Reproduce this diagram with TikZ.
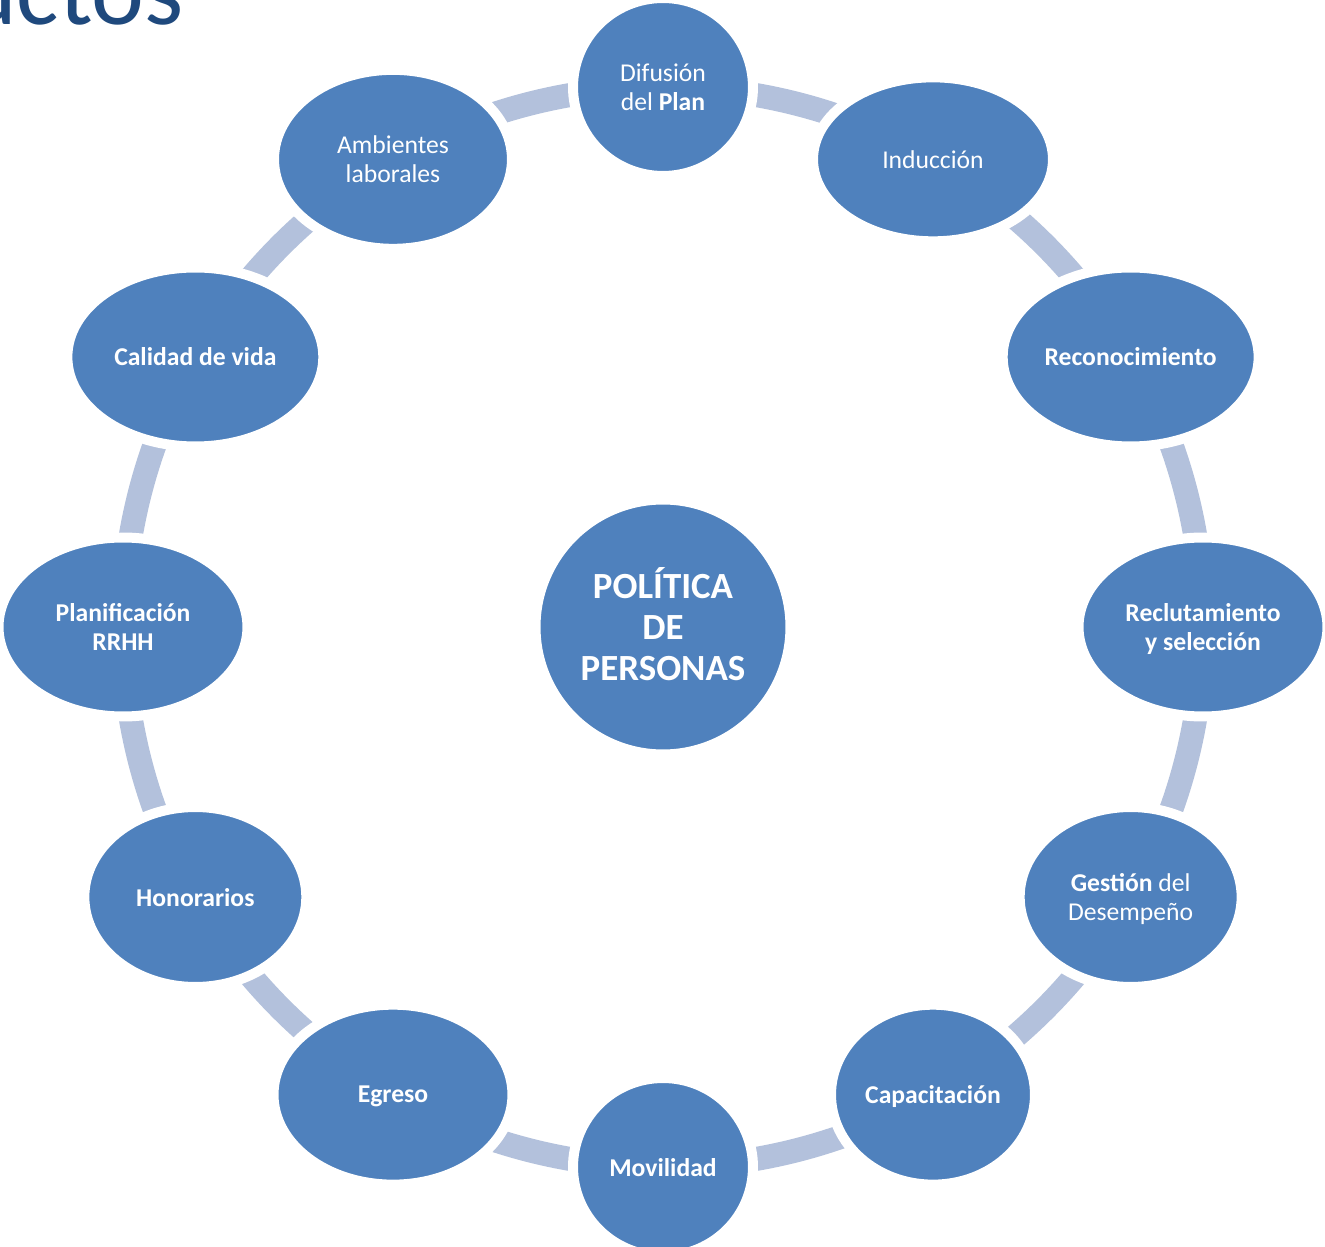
\documentclass[tikz,border=0pt]{standalone}
\usepackage{fontspec}
\setmainfont{Carlito}
\usetikzlibrary{shapes.geometric}

\definecolor{nodeblue}{RGB}{79,129,189}
\definecolor{ringblue}{RGB}{179,193,220}
\definecolor{titleblue}{RGB}{31,73,125}

\pgfdeclarelayer{ring}
\pgfsetlayers{ring,main}

\begin{document}
\begin{tikzpicture}[x=0.02cm, y=0.02cm,
    item/.style={ellipse, fill=nodeblue, draw=white, line width=0.2cm, inner sep=0pt,
      text=white, align=center, text depth=0pt, font=\fontsize{14.6}{16.5}\selectfont},
    bolditem/.style={item, font=\fontsize{14.6}{16.5}\selectfont\bfseries},
    hub/.style={item, minimum size=5.1cm, text depth=0.12cm, font=\fontsize{21}{23.3}\selectfont\bfseries},
    link/.style={ringblue, line width=0.48cm}]

  \useasboundingbox (-663,-620) rectangle (662,627);

  \begin{scope}
    \clip (-663,-620) rectangle (662,627);
    \node[anchor=base east, inner sep=0pt, text=titleblue, font=\fontsize{57}{60}\selectfont] (title) at (-479,602) {uctos};
  \end{scope}

  \node[hub] (politica) at (0,0) {POLÍTICA\\DE\\PERSONAS};

  \node[item, minimum width=3.6cm, minimum height=3.56cm] (difusion) at (90:540) {Difusión\\del \textbf{Plan}};
  \node[item, minimum width=4.8cm, minimum height=3.28cm] (induccion) at (60:540) {Inducción};
  \node[bolditem, minimum width=5.12cm, minimum height=3.58cm] (reconoc) at (30:540) {Reconocimiento};
  \node[bolditem, minimum width=4.98cm, minimum height=3.58cm] (reclut) at (0:540) {Reclutamiento\\y selección};
  \node[item, minimum width=4.44cm, minimum height=3.6cm] (gestion) at (-30:540) {\textbf{Gestión} del\\Desempeño};
  \node[bolditem, minimum width=4.08cm, minimum height=3.6cm] (capacit) at (-60:540) {Capacitación};
  \node[bolditem, minimum width=3.6cm, minimum height=3.56cm] (movilidad) at (-90:540) {Movilidad};
  \node[bolditem, minimum width=4.78cm, minimum height=3.6cm] (egreso) at (-120:540) {Egreso};
  \node[bolditem, minimum width=4.44cm, minimum height=3.6cm] (honorarios) at (-150:540) {Honorarios};
  \node[bolditem, minimum width=4.98cm, minimum height=3.58cm] (planif) at (180:540) {Planificación\\RRHH};
  \node[bolditem, minimum width=5.12cm, minimum height=3.58cm] (calidad) at (150:540) {Calidad de vida};
  \node[item, minimum width=4.76cm, minimum height=3.58cm] (ambientes) at (120:540) {Ambientes\\laborales};

  \begin{pgfonlayer}{ring}
    \foreach \a/\b in {difusion/induccion, induccion/reconoc, reconoc/reclut, reclut/gestion,
        gestion/capacit, capacit/movilidad, movilidad/egreso, egreso/honorarios,
        honorarios/planif, planif/calidad, calidad/ambientes, ambientes/difusion}
      \draw[link] (\a.center) to[bend left=15, looseness=0.87] (\b.center);
  \end{pgfonlayer}
\end{tikzpicture}
\end{document}
